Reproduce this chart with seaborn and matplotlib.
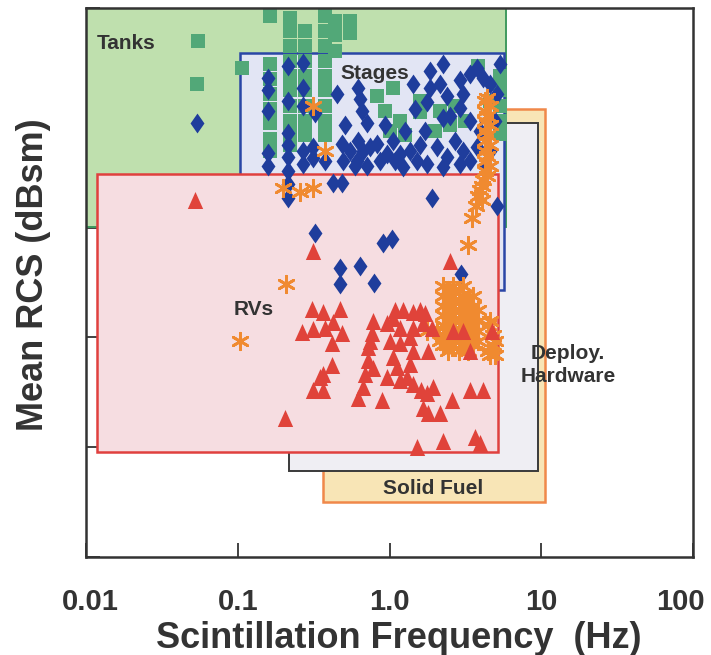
import matplotlib
matplotlib.use("Agg")
import matplotlib.pyplot as plt
from matplotlib.patches import Rectangle
from matplotlib.ticker import NullLocator
from matplotlib.transforms import ScaledTranslation
import seaborn as sns

# ---------------- data ----------------
# Class regions (frequency range in Hz, mean RCS range in dBsm)
box_names = ["Solid Fuel", "Deploy. Hardware", "Tanks", "Stages", "RVs"]
box_f_lo = [0.365, 0.218, 0.01, 0.103, 0.0118]
box_f_hi = [10.6, 9.5, 5.9, 5.65, 5.2]
box_rcs_lo = [-35.0, -32.2, -9.9, -15.7, -30.4]
box_rcs_hi = [0.8, -0.45, 10.0, 5.9, -5.1]

# Tanks (green squares)
tank_freq = [0.0547, 0.0539, 0.107,
             0.163, 0.163, 0.163, 0.163, 0.163, 0.163, 0.163, 0.163,
             0.221, 0.221, 0.221, 0.221, 0.221, 0.221, 0.221, 0.221, 0.221, 0.221,
             0.277, 0.277, 0.277, 0.277, 0.277, 0.277, 0.277, 0.277,
             0.376, 0.376, 0.376, 0.376, 0.376, 0.376, 0.376, 0.376, 0.376,
             0.437, 0.437, 0.437, 0.549, 0.549,
             0.827, 1.055, 0.934, 1.17, 1.008, 1.26, 1.59, 1.59, 2.15, 2.70,
             2.51, 3.15, 2.0, 3.83, 5.35, 5.35, 5.35, 5.35, 5.35, 4.59]
tank_rcs = [7.0, 3.1, 4.5,
            9.3, 4.9, 3.5, 2.2, 0.8, -0.5, -1.9, -3.0,
            9.1, 7.9, 6.5, 5.2, 3.8, 2.5, 1.1, -0.3, -1.6, -2.5,
            7.9, 6.5, 5.2, 3.8, 2.5, 1.1, -0.3, -1.6,
            9.3, 7.9, 6.5, 5.2, 3.8, 2.5, 1.1, -0.3, -1.6,
            8.8, 7.5, 6.1, 8.8, 7.7,
            2.0, 2.7, 0.6, -0.3, -1.2, -1.6, 1.5, 0.5, 0.6, 1.1,
            -0.7, -0.3, -1.2, 4.7, 3.8, 2.5, 1.1, -0.3, -1.5, 1.5]

# Stages (blue diamonds)
stage_freq = [0.0539, 0.214, 0.269,
              0.158, 0.158, 0.158, 0.158, 0.158,
              0.214, 0.214, 0.214, 0.214, 0.214, 0.214, 0.214,
              0.269, 0.269, 0.269, 0.269,
              0.323, 0.313, 0.313,
              0.451, 0.486, 0.494, 0.424, 0.486,
              0.620, 0.639, 0.659, 0.711, 0.620, 0.668, 0.611, 0.711, 0.744,
              0.827, 0.963, 0.866, 1.055, 1.17, 1.23,
              1.43, 1.47, 1.36, 1.52, 1.77,
              1.85, 2.25, 1.85, 2.15, 1.77, 2.39, 2.51, 2.25,
              2.06, 2.39, 2.25,
              2.92, 3.05, 2.92, 3.05, 2.92, 3.39,
              3.77, 4.13, 3.39, 4.59, 5.11, 5.35, 3.77,
              1.91, 5.11,
              0.323, 0.906, 1.04, 0.472, 0.639, 0.472, 0.790, 2.96,
              0.549, 0.593, 1.087, 1.59, 2.70, 3.95, 4.59, 4.26, 4.95, 3.39,
              0.509, 0.934, 1.26, 1.71, 0.376]
stage_rcs = [-0.5, 4.7, 5.0,
             3.6, 2.5, 0.6, -3.2, -4.4,
             1.5, -1.4, -2.5, -3.6, -4.8, -6.0, -7.3,
             2.7, 1.1, -3.0, -4.2,
             0.4, -2.7, -3.7,
             2.2, -2.4, -3.9, -5.9, -5.9,
             2.7, 1.7, 0.6, -0.5, -2.1, -3.0, -3.9, -4.4, -2.7,
             -2.4, -3.3, -3.9, -2.1, -3.3, -4.5,
             3.1, 0.8, -3.0, -3.9, -4.2,
             4.3, 4.9, 2.7, 3.1, 1.4, 2.0, 0.2, 0.0,
             -2.7, -3.6, -4.5,
             3.4, 2.2, 0.9, -3.0, -4.2, -3.9,
             4.5, 3.6, 4.0, 3.1, 2.2, 4.9, -2.7,
             -7.3, -8.0,
             -10.5, -11.4, -11.0, -13.7, -13.5, -15.1, -15.0, -14.2,
             -3.0, -4.4, -3.9, -2.5, -2.1, -1.2, -3.0, -4.4, -0.3, -0.3,
             -0.7, -0.7, -1.2, -1.2, -3.9]

# RVs (red triangles)
rv_freq = [0.0523, 0.313, 0.205, 2.51,
           0.308, 0.365, 0.472, 0.265, 0.313, 0.376, 0.424, 0.486, 0.418,
           0.418, 0.365, 0.313, 0.365, 0.348,
           0.778, 0.767, 0.721, 0.721, 0.690, 0.668, 0.620, 0.744, 0.778,
           1.055, 1.23, 1.43, 1.59, 1.087, 1.71, 0.963, 1.17, 1.43, 1.66,
           1.91, 1.008, 1.17, 1.36, 1.43, 1.055, 1.12, 1.36, 0.963, 1.17,
           1.30, 1.43, 1.62, 1.94, 1.77, 1.66, 1.79, 2.15, 2.58, 1.79,
           1.52, 0.893,
           2.62, 3.39, 4.73, 3.39, 4.13, 2.25, 3.66, 3.95, 3.05]
rv_rcs = [-7.5, -12.1, -27.3, -13.0,
          -17.4, -17.7, -17.4, -19.5, -19.2, -19.1, -18.6, -19.6, -20.5,
          -22.5, -23.3, -24.8, -24.8, -23.6,
          -18.5, -19.6, -20.9, -22.1, -23.3, -24.5, -25.5, -20.3, -22.8,
          -18.2, -17.5, -17.7, -17.5, -17.5, -17.8, -18.7, -19.1, -19.1, -18.7,
          -19.1, -20.3, -20.5, -20.0, -21.2, -21.8, -22.7, -22.4, -23.6, -23.9,
          -23.6, -24.2, -24.8, -24.5, -25.1, -26.4, -26.9, -26.9, -25.7, -21.2,
          -30.0, -25.7,
          -19.4, -21.2, -19.4, -24.8, -24.8, -29.4, -29.1, -29.6, -19.4]

# Solid fuel (orange asterisks)
fuel_freq = [0.103, 0.208, 0.376, 0.257, 0.313, 0.313, 0.199,
             4.26, 4.26, 4.26, 4.26, 4.26, 4.26, 4.26, 4.26,
             4.39, 4.39, 4.39, 4.39, 4.39, 4.07,
             4.13, 3.95, 4.07, 4.59, 4.59, 4.59, 4.59, 3.83, 3.72,
             3.50, 3.29,
             2.25, 2.25, 2.25, 2.25, 2.25, 2.25, 2.25,
             2.62, 2.62, 2.62, 2.62, 2.62, 2.62, 2.62,
             3.05, 3.05, 3.05, 3.05, 3.05, 3.05, 3.05,
             3.55, 3.55, 3.55, 3.55, 3.55, 3.55,
             2.44, 2.44, 2.44, 2.44, 2.44, 2.44, 2.44,
             2.85, 2.85, 2.85, 2.85, 2.85, 2.85, 2.85,
             3.29, 3.29, 3.29, 3.29, 3.29, 3.29,
             3.83, 3.83, 3.83, 3.83,
             4.46, 4.81, 4.81, 4.59, 4.59, 4.95, 4.46, 4.95,
             1.77, 2.06, 2.15]
fuel_rcs = [-20.3, -15.1, -3.0, -6.8, -6.4, 1.1, -6.4,
            1.5, 0.6, -0.3, -1.2, -2.1, -3.0, -3.9, -4.8,
            1.8, 0.2, -1.6, -3.5, -5.3, -6.2,
            -5.7, -6.6, -7.5, 1.1, -0.7, -2.5, -4.4, -7.1, -8.0,
            -9.1, -11.6,
            -15.3, -16.2, -17.1, -18.0, -18.9, -19.8, -20.7,
            -15.3, -16.2, -17.1, -18.0, -18.9, -19.8, -20.7,
            -15.3, -16.2, -17.1, -18.0, -18.9, -19.8, -20.7,
            -16.2, -17.1, -18.0, -18.9, -19.8, -20.7,
            -15.7, -16.6, -17.5, -18.5, -19.4, -20.3, -21.2,
            -15.7, -16.6, -17.5, -18.5, -19.4, -20.3, -21.2,
            -16.6, -17.5, -18.5, -19.4, -20.3, -21.2,
            -17.5, -18.5, -19.4, -20.3,
            -18.9, -19.8, -20.7, -21.6, -18.5, -20.3, -21.2, -21.6,
            -19.4, -19.4, -20.3]

x_tick_vals = [0.01, 0.1, 1, 10, 100]
x_tick_labels = ["0.01", "0.1", "1.0", "10", "100"]
y_tick_vals = [-40, -30, -20, -10, 0, 10]

# ---------------- styling ----------------
sns.set_style("white")
plt.rcParams["font.family"] = ["Liberation Sans", "DejaVu Sans"]
ink = "#333333"

fig = plt.figure(figsize=(7.11, 6.55), dpi=100)
ax = fig.add_axes([86 / 711, 1 - 557 / 655, (693 - 86) / 711, (557 - 8) / 655])
ax.set_xscale("log")
ax.set_xlim(0.01, 100)
ax.set_ylim(-40, 10)

box_face = ["#f8e5b6", "#efeef3", "#bfe0ae", "#e2e5f4", "#f6dde1"]
box_edge = ["#f0884a", "#3a3a3a", "#3f9a5e", "#2a46a6", "#e0403e"]
box_lw = [1.8, 1.4, 1.4, 1.8, 1.8]
for i in range(len(box_names)):
    ax.add_patch(Rectangle((box_f_lo[i], box_rcs_lo[i]),
                           box_f_hi[i] - box_f_lo[i],
                           box_rcs_hi[i] - box_rcs_lo[i],
                           facecolor=box_face[i], edgecolor=box_edge[i],
                           linewidth=box_lw[i], zorder=1 + i))

diamond = [(0, 1), (0.7, 0), (0, -1), (-0.7, 0), (0, 1)]
triangle = [(0, 1), (0.9, -1), (-0.9, -1), (0, 1)]

sns.scatterplot(x=tank_freq, y=tank_rcs, marker="s", s=100, color="#52a878",
                linewidth=0, ax=ax, zorder=6)
sns.scatterplot(x=stage_freq, y=stage_rcs, marker=diamond, s=205, color="#1f3d9c",
                linewidth=0, ax=ax, zorder=7)
sns.scatterplot(x=fuel_freq, y=fuel_rcs, marker=(6, 2, 0), s=140, color="#f08a30",
                linewidth=2.0, ax=ax, zorder=8)
sns.scatterplot(x=rv_freq, y=rv_rcs, marker=triangle, s=150, color="#e0433a",
                linewidth=0, ax=ax, zorder=9)

lab_kw = dict(fontsize=15, fontweight="bold", color=ink, zorder=12)
ax.text(0.0118, 6.8, "Tanks", ha="left", va="center", **lab_kw)
ax.text(0.80, 4.0, "Stages", ha="center", va="center", **lab_kw)
ax.text(0.128, -17.5, "RVs", ha="center", va="center", **lab_kw)
ax.text(15.0, -22.5, "Deploy.\nHardware", ha="center", va="center",
        linespacing=1.3, **lab_kw)
ax.text(1.94, -33.8, "Solid Fuel", ha="center", va="center", **lab_kw)

ax.set_xticks(x_tick_vals)
ax.set_xticklabels(x_tick_labels)
ax.xaxis.set_minor_locator(NullLocator())
ax.set_yticks(y_tick_vals)
ax.set_yticklabels([])
ax.tick_params(axis="x", direction="in", length=10, width=1.3, color=ink,
               pad=22, labelsize=21, labelcolor=ink, bottom=True, top=False)
ax.tick_params(axis="y", direction="in", length=10, width=1.3, color=ink,
               left=True, right=False)
xlabels = ax.get_xticklabels()
for t in xlabels:
    t.set_fontweight("bold")
xlabels[0].set_transform(xlabels[0].get_transform()
                         + ScaledTranslation(4 / 100, 0, fig.dpi_scale_trans))
xlabels[-1].set_transform(xlabels[-1].get_transform()
                          + ScaledTranslation(-13 / 100, 0, fig.dpi_scale_trans))

for sp in ax.spines.values():
    sp.set_color(ink)
    sp.set_linewidth(1.8)
    sp.set_zorder(20)

ax.set_xlabel("Scintillation Frequency  (Hz)", fontsize=26, fontweight="bold",
              color=ink)
ax.xaxis.set_label_coords(0.516, -0.116)
ax.set_ylabel("Mean RCS (dBsm)", fontsize=26, fontweight="bold", color=ink)
ax.yaxis.set_label_coords(-0.057, 0.515)

fig.savefig("out.png", dpi=100, facecolor="white")
